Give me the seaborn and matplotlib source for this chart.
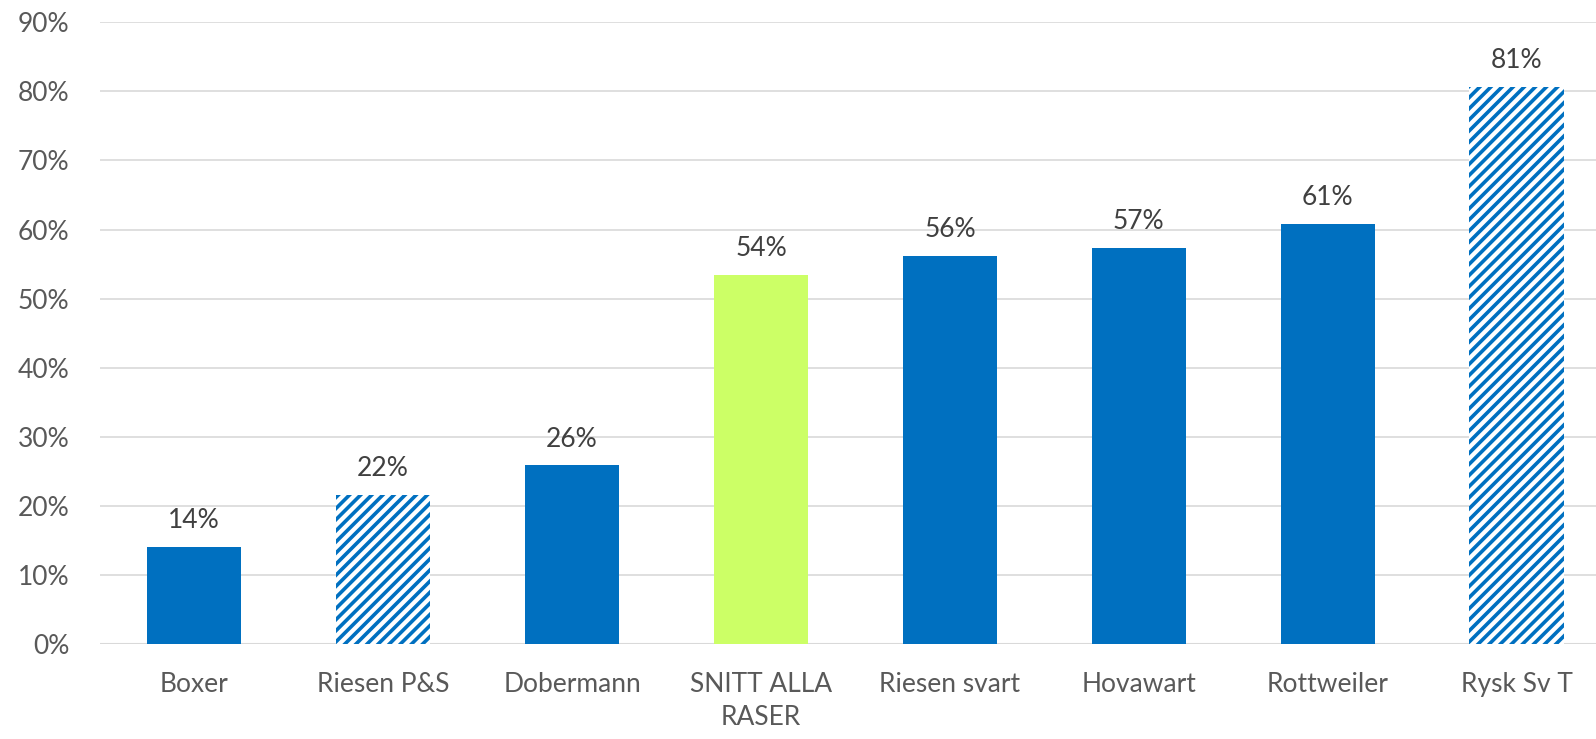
import numpy as np
import pandas as pd
import matplotlib.pyplot as plt
import seaborn as sns

categories = ['Boxer', 'Riesen P&S', 'Dobermann', 'SNITT ALLA\nRASER', 'Riesen svart',
              'Hovawart', 'Rottweiler', 'Rysk Sv T']
values = [14.1, 21.6, 25.9, 53.5, 56.2, 57.3, 60.8, 80.6]
hatched = [False, True, False, False, False, False, False, True]
colors = ['#0070C0', '#0070C0', '#0070C0', '#CCFF66', '#0070C0', '#0070C0', '#0070C0', '#0070C0']

df = pd.DataFrame({'ras': categories, 'andel': values})

sns.set_style('white')
plt.rcParams['font.family'] = ['Lato', 'DejaVu Sans']
plt.rcParams['hatch.linewidth'] = 2.6

fig, ax = plt.subplots(figsize=(15.96, 7.39), dpi=100)
# the plot area runs slightly past the right edge of the picture, as in the original
fig.subplots_adjust(left=0.0625, right=1.0095, top=0.97, bottom=0.128)

sns.barplot(data=df, x='ras', y='andel', hue='ras', palette=colors, legend=False,
            width=0.5, ax=ax, saturation=1)

for bar, h, c in zip(ax.patches, hatched, colors):
    bar.set_linewidth(0)
    if h:
        bar.set_facecolor('white')
        bar.set_edgecolor(c)
        bar.set_hatch('///')

for i, v in enumerate(values):
    ax.text(i, v + 2.0, f'{round(v):.0f}%', ha='center', va='bottom',
            fontsize=19, color='#404040')

ax.set_ylim(0, 90)
ax.set_yticks(np.arange(0, 91, 10))
ax.set_yticklabels([f'{t}%' for t in range(0, 91, 10)])
ax.set_xlim(-0.5, len(categories) - 0.5)
ax.yaxis.grid(True, color='#d9d9d9', linewidth=1.2)
ax.set_axisbelow(True)
for s in ['top', 'right', 'left', 'bottom']:
    ax.spines[s].set_visible(False)
ax.axhline(0, color='#d9d9d9', linewidth=1.5, zorder=0)
ax.tick_params(axis='both', labelsize=19, colors='#595959', length=0)
ax.tick_params(axis='x', pad=20)
ax.tick_params(axis='y', pad=22)
for lab in ax.get_xticklabels():
    lab.set_linespacing(1.4)
ax.set_xlabel('')
ax.set_ylabel('')

plt.savefig('out.png', dpi=100)
